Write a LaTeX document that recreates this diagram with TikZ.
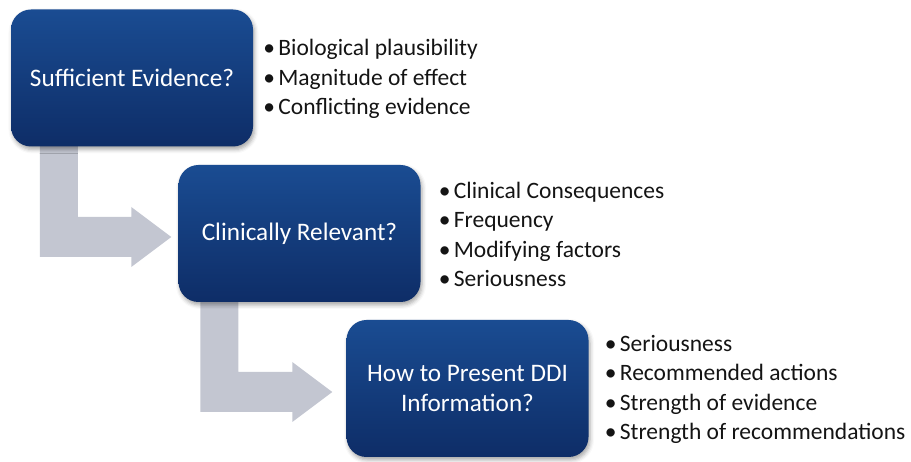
\documentclass[tikz,border=0pt]{standalone}
\usepackage{fontspec}
\setmainfont{Carlito}
\usetikzlibrary{calc,shadows.blur,backgrounds}

\definecolor{boxtop}{RGB}{26,76,146}
\definecolor{boxbot}{RGB}{14,45,103}
\definecolor{arrowgray}{RGB}{195,198,209}
\definecolor{listtext}{RGB}{20,20,20}

% block arrow from the bottom of one stage to the left side of the next
\newcommand\flowarrow[4]{%
  \fill[arrowgray] let \p1=(#1.south west), \p2=(#2.west),
    \n1={\x1+#3}, \n2={\x1+#3+38pt}, \n3={\x2-#4}, \n4={\x2-#4-40pt}, \n5={\y2-3.5pt} in
    (\n1,\y1+10pt) -- (\n1,\n5-20pt) -- (\n4,\n5-20pt) -- (\n4,\n5-30pt)
    -- (\n3,\n5) -- (\n4,\n5+30pt) -- (\n4,\n5+20pt) -- (\n2,\n5+20pt)
    -- (\n2,\y1+10pt) -- cycle;}

\newcommand\bitem[1]{\makebox[15pt][l]{•}#1}

\begin{document}
\begin{tikzpicture}[x=1pt,y=1pt,
  stagebox/.style={rounded corners=20pt, minimum width=242pt, minimum height=137pt,
    top color=boxtop, bottom color=boxbot, draw=none, text=white, align=center,
    font=\fontsize{25.2}{30}\selectfont,
    blur shadow={shadow xshift=1.5pt, shadow yshift=-3pt, shadow blur radius=4pt, shadow opacity=35}},
  itemlist/.style={anchor=west, align=left, inner sep=0pt, text=listtext,
    font=\fontsize{23.5}{29.5}\selectfont}]
  \useasboundingbox (0,0) rectangle (911,462);

  % stages
  \node[stagebox] (s1) at (132,384) {Sufficient Evidence?};
  \node[stagebox] (s2) at (299.5,228.5) {Clinically Relevant?};
  \node[stagebox] (s3) at (467.5,73.5) {How to Present DDI\\Information?};

  % block arrows between the stages, behind the boxes
  \begin{pgfonlayer}{background}
    \flowarrow{s1}{s2}{29pt}{7pt}
    \flowarrow{s2}{s3}{22pt}{14pt}
  \end{pgfonlayer}

  % criteria lists
  \node[itemlist] (l1) at ($(s1.east)+(10,-1)$)
    {\bitem{Biological plausibility}\\\bitem{Magnitude of effect}\\\bitem{Conflicting evidence}};
  \node[itemlist] (l2) at ($(s2.east)+(18,-1)$)
    {\bitem{Clinical Consequences}\\\bitem{Frequency}\\\bitem{Modifying factors}\\\bitem{Seriousness}};
  \node[itemlist] (l3) at ($(s3.east)+(16,-1)$)
    {\bitem{Seriousness}\\\bitem{Recommended actions}\\\bitem{Strength of evidence}\\\bitem{Strength of recommendations}};
\end{tikzpicture}
\end{document}
